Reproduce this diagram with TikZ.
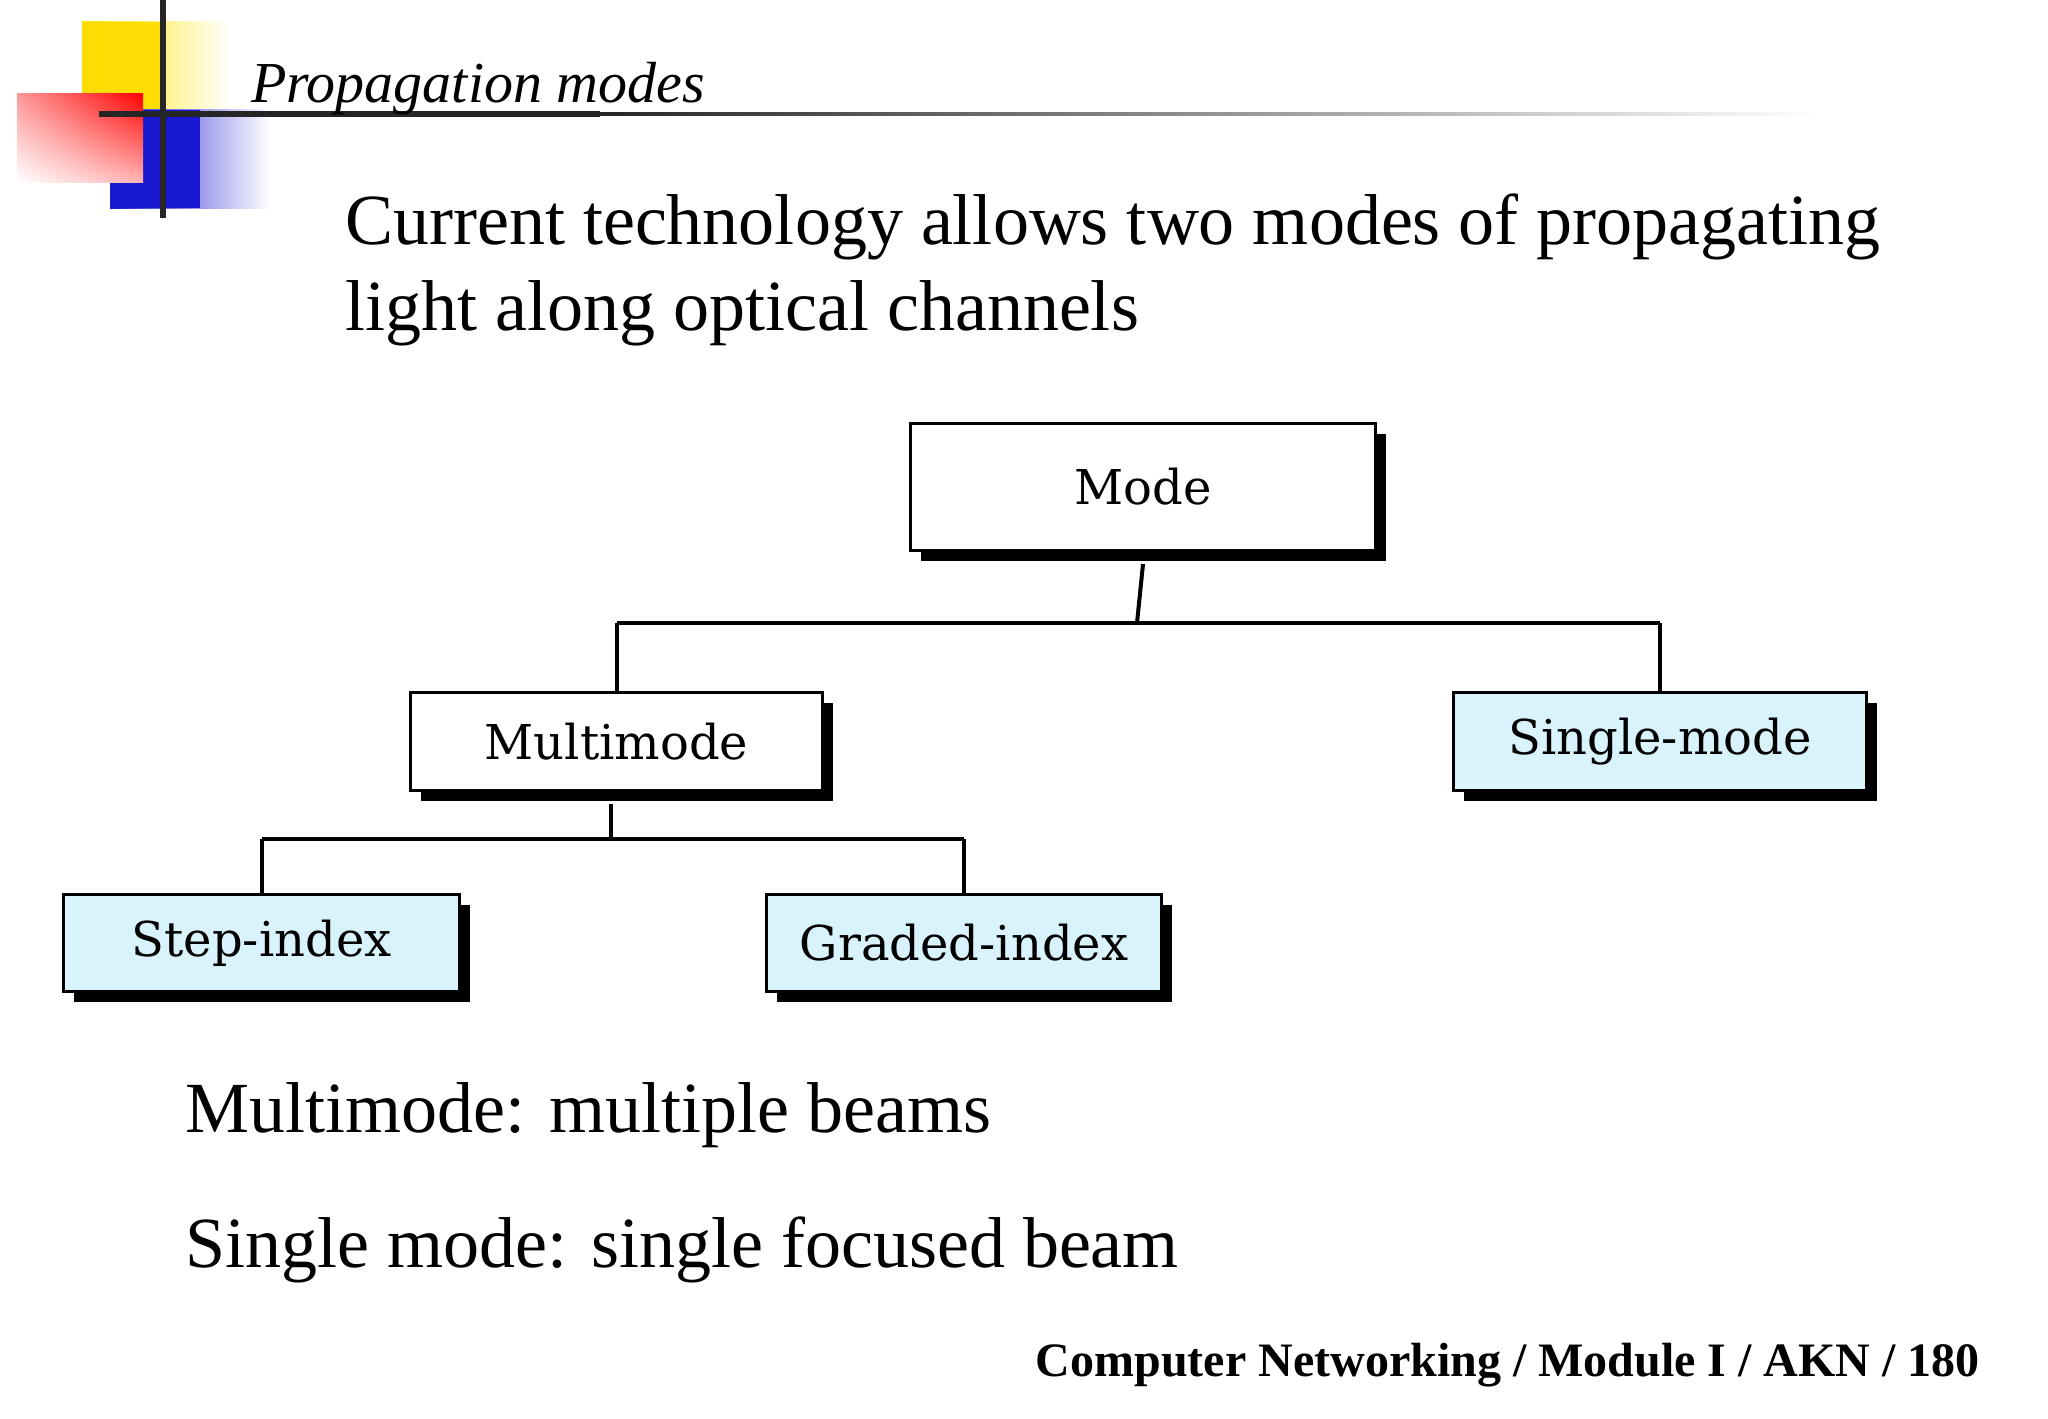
\documentclass[tikz,border=0pt]{standalone}
\usepackage{fontspec}
\usetikzlibrary{shadings}
\setmainfont{Liberation Serif}
\newfontfamily\boxfont{DejaVu Serif}
\begin{document}
\begin{tikzpicture}[x=0.5pt,y=-0.5pt,
 bx/.style={draw=black,line width=1.5pt,inner sep=0,font=\boxfont\fontsize{24}{28}\selectfont},
 ln/.style={line width=2pt}]
\useasboundingbox (0,0) rectangle (2048,1418);
% logo
\fill[left color=yellow!80!orange, right color=white] (82,22) rectangle (230,110);
\fill[yellow!80!orange] (82,22) rectangle (163,110);
\fill[left color=blue!80!black!90, right color=white] (110,110) rectangle (270,208);
\fill[blue!80!black!90] (110,110) rectangle (200,208);
\shade[lower left=white, upper right=red, lower right=red!30, upper left=red!40] (17,94) rectangle (143,182);
\draw[line width=3pt,black!85] (163,0) -- (163,218);
\draw[line width=3pt,black!85] (99,114) -- (600,114);
\shade[left color=black!85,right color=white] (600,112.5) rectangle (1820,115.5);
\node[anchor=base west,font=\itshape\fontsize{29}{34}\selectfont] (title) at (244,103) {Propagation modes};
\node[anchor=base west,font=\fontsize{36}{43}\selectfont,align=left] (t1) at (338,244) {Current technology allows two modes of propagating};
\node[anchor=base west,font=\fontsize{36}{43}\selectfont] (t2) at (338,330) {light along optical channels};
% boxes
\foreach \n/\a/\b/\c/\d/\f/\t in {mode/909/422/1374/549/white/Mode, multi/409/691/821/789/white/Multimode, single/1452/691/1865/789/cyan!15/Single-mode, step/62/893/458/990/cyan!15/Step-index, graded/765/893/1160/990/cyan!15/Graded-index}{
 \fill (\a+12,\b+12) rectangle (\c+12,\d+12);
 \node[bx,fill=\f,minimum width=(\c-\a)*0.5pt,minimum height=(\d-\b)*0.5pt,anchor=north west] (\n) at (\a,\b) {\t};
}
\coordinate (j1) at (1137,623);
\coordinate (j2) at (611,839);
\draw[ln] (mode.south) ++(0,12) -- (j1);
\draw[ln] (multi |- j1) -- (single |- j1);
\draw[ln] (multi |- j1) -- (multi.north);
\draw[ln] (single |- j1) -- (single.north);
\draw[ln] (j2 |- multi.south) ++(0,12) -- (j2);
\draw[ln] (step |- j2) -- (graded |- j2);
\draw[ln] (step |- j2) -- (step.north);
\draw[ln] (graded |- j2) -- (graded.north);
\node[anchor=base west,font=\fontsize{36}{43}\selectfont] (b1) at (178,1132) {Multimode: multiple beams};
\node[anchor=base west,font=\fontsize{36}{43}\selectfont] (b2) at (178,1267) {Single mode: single focused beam};
\node[anchor=base east,font=\bfseries\fontsize{24}{28}\selectfont] (f) at (1987,1376) {Computer Networking / Module I / AKN / 180};
\end{tikzpicture}
\end{document}
